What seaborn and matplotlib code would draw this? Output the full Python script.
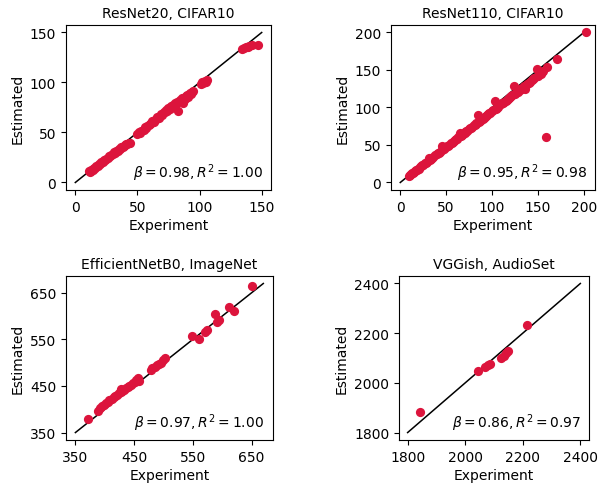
import matplotlib
matplotlib.use("Agg")
import matplotlib.pyplot as plt
import seaborn as sns

# --- data: experiment vs estimated ---
rn20_exp = [11, 12, 12.5, 13, 14, 14.5, 15, 16, 17, 18, 19, 20, 21, 22, 23, 24, 25, 26, 27, 28,
            29, 30, 31, 32, 33, 34, 35, 36, 37, 38, 39, 40, 41, 42, 43, 44,
            50, 51, 52, 53, 55, 56, 57, 58, 59, 60, 61, 62, 63, 64, 65, 66, 67, 68, 69, 70,
            71, 72, 73, 74, 75, 76, 77, 78, 79, 80, 81, 82, 83, 84, 85, 86, 87, 88, 89, 90,
            91, 92, 93, 94, 95,
            101, 102, 103, 104, 105, 106,
            134, 136, 137, 139, 140, 142, 147]
rn20_est = [11, 10.5, 12, 11.5, 13, 12.5, 14, 14.5, 16, 16.5, 18, 18.5, 20, 20, 22, 22, 23.5, 24, 26, 26,
            27.5, 28, 30, 29.5, 31, 31.5, 33.5, 33, 35, 35, 36.5, 37, 38, 38.5, 39, 39.5,
            48, 50, 49, 51, 52, 55, 54, 56, 57, 58, 59, 61, 60, 62, 63, 65, 64, 66, 68, 67,
            70, 70, 72, 71, 74, 73, 76, 75, 77, 79, 78, 80, 71, 82, 81, 84, 79, 83, 86, 87,
            85, 89, 88, 90, 91,
            98, 100, 99, 101, 100, 102,
            133, 134, 135, 135.5, 136, 137, 137]

rn110_exp = [10, 11, 12, 13, 14, 15, 16, 17, 18, 19, 20, 22, 23, 24, 25, 27, 28, 29, 31, 32,
             33, 35, 36, 38, 40, 41, 42, 43, 45, 46, 47, 48, 50, 51, 52, 53, 55, 56, 57, 58,
             60, 61, 62, 63, 65, 66, 67, 68, 70, 71, 72, 73, 75, 76, 77, 78, 80, 81, 82, 83,
             85, 86, 87, 88, 90, 91, 92, 93, 95, 96, 97, 98, 100, 101, 103, 104, 105, 106, 107, 108,
             110, 111, 112, 113, 115, 116, 117, 118, 120, 121, 122, 124, 125, 127, 128, 130, 132, 133,
             135, 136, 138, 140, 141, 143, 145, 146, 148.6, 150, 151, 153, 154, 155,
             159, 160, 171, 202]
rn110_est = [9, 10.5, 11, 12.5, 13, 14, 15, 16, 17, 18, 18.5, 21, 21.5, 23, 23, 25.5, 26, 27, 32, 30,
             31, 33, 34, 36, 38, 39, 39.5, 41, 48, 43, 44.5, 45, 47, 48.5, 49, 50, 52, 53, 54, 55,
             57, 58, 58.5, 60, 66, 62.5, 63, 64.5, 66, 67, 68.5, 69, 71, 72, 73, 74, 76, 77, 77.5, 79,
             90, 81, 82.5, 83.5, 85, 86, 87.5, 88, 90, 91, 92, 93, 95, 96, 108, 98.5, 99.5, 100, 101.5, 103,
             104, 105.5, 106, 107.5, 109, 110, 111, 112, 114, 115, 116, 128, 118, 121, 121, 123, 125, 126,
             128, 124, 131, 133, 134, 136, 138, 139, 151, 142, 144, 145, 147, 148,
             60, 154, 164, 200]

effnet_exp = [371, 388, 392, 395, 398, 402, 405, 408, 412, 415, 418, 421, 424, 427, 430, 428, 433,
              436, 439, 442, 445, 448, 451, 454, 457, 458,
              478, 481, 485, 489, 492, 496, 500, 503,
              549, 560, 571, 574, 588, 591, 594, 611, 620, 651]
effnet_est = [380, 397, 403, 408, 410, 413, 416, 419, 423, 426, 428, 431, 434, 437, 440, 444, 442,
              445, 447, 450, 453, 456, 459, 462, 468, 460,
              485, 488, 491, 494, 497, 500, 505, 509,
              558, 551, 566, 571, 605, 587, 591, 619, 610, 664]

vgg_exp = [1843, 2046, 2070, 2078, 2086, 2124, 2134, 2141, 2149, 2215]
vgg_est = [1883, 2047, 2065, 2070, 2075, 2100, 2110, 2120, 2128, 2232]

# identity line end points
rn20_line = [0, 150]
rn110_line = [0, 200]
effnet_line = [350, 670]
vgg_line = [1800, 2400]

titles = ["ResNet20, CIFAR10", "ResNet110, CIFAR10", "EfficientNetB0, ImageNet", "VGGish, AudioSet"]
stats = [r"$\beta=0.98, R^2=1.00$", r"$\beta=0.95, R^2=0.98$",
         r"$\beta=0.97, R^2=1.00$", r"$\beta=0.86, R^2=0.97$"]
xticks = [[0, 50, 100, 150], [0, 50, 100, 150, 200], [350, 450, 550, 650], [1800, 2000, 2200, 2400]]

panels = [(rn20_exp, rn20_est, rn20_line), (rn110_exp, rn110_est, rn110_line),
          (effnet_exp, effnet_est, effnet_line), (vgg_exp, vgg_est, vgg_line)]

fig = plt.figure(figsize=(6.06, 4.85), dpi=100)
positions = [[0.1089, 0.6062, 0.3383, 0.3402],
             [0.6452, 0.6062, 0.3366, 0.3402],
             [0.1089, 0.0907, 0.3411, 0.3381],
             [0.6584, 0.0907, 0.3135, 0.3381]]

for i, (ex, es, line) in enumerate(panels):
    ax = fig.add_axes(positions[i])
    sns.lineplot(x=line, y=line, color="black", linewidth=1.1, ax=ax)
    sns.scatterplot(x=ex, y=es, color="crimson", s=44, linewidth=0, alpha=1, ax=ax, zorder=3)
    ax.set_title(titles[i], fontsize=10)
    ax.set_xlabel("Experiment", fontsize=10, labelpad=3)
    ax.set_ylabel("Estimated", fontsize=10)
    ax.set_xticks(xticks[i])
    ax.set_yticks(xticks[i])
    ax.text(0.96, 0.04, stats[i], transform=ax.transAxes, ha="right", va="bottom", fontsize=10)

fig.savefig("out.png", dpi=100)
